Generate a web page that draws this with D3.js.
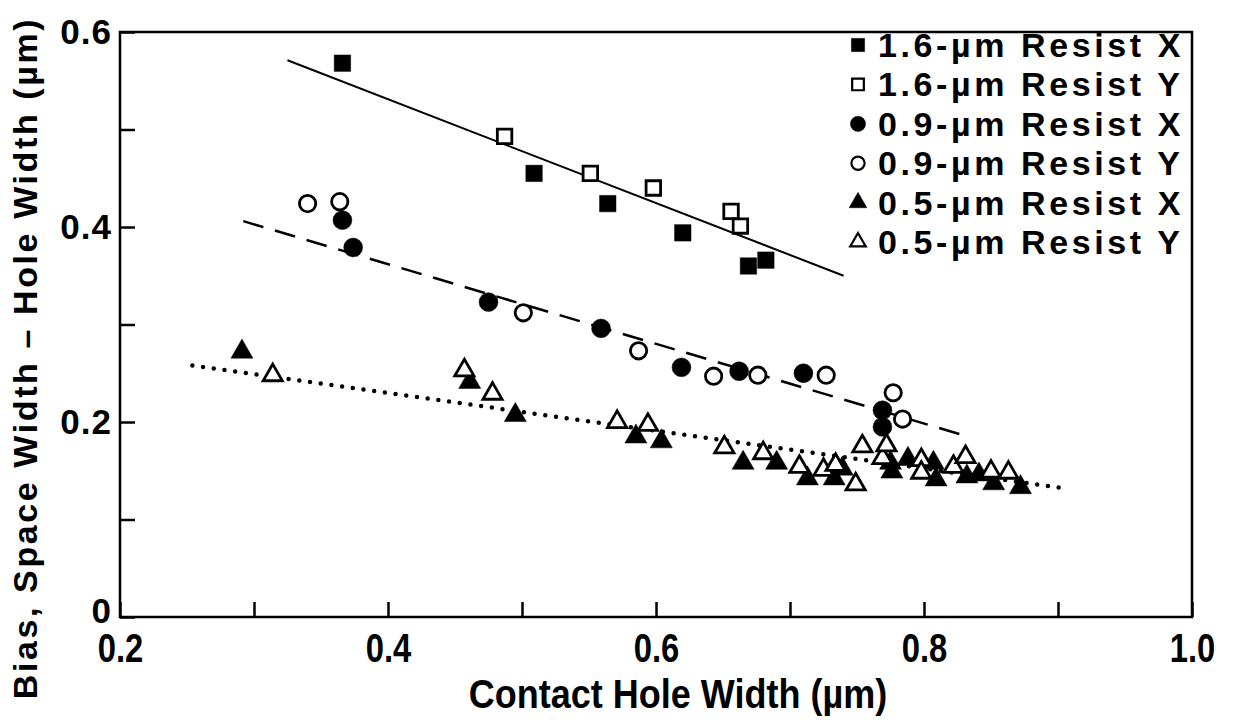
<!DOCTYPE html>
<html>
<head>
<meta charset="utf-8">
<script src="https://d3js.org/d3.v7.min.js"></script>
<style>
  body { margin: 0; background: #fff; }
  text { font-family: "Liberation Sans", Arial, sans-serif; font-weight: bold; fill: #000; }
</style>
</head>
<body>
<div id="chart"></div>
<script>

// data (x = contact hole width, y = bias), all in µm
var resist16X = [[0.366,0.568],[0.509,0.455],[0.564,0.424],[0.620,0.394],[0.669,0.360],[0.682,0.366]];
var resist16Y = [[0.487,0.493],[0.551,0.455],[0.598,0.440],[0.656,0.416],[0.663,0.401]];
var resist09X = [[0.366,0.407],[0.374,0.379],[0.475,0.323],[0.559,0.296],[0.619,0.256],[0.662,0.252],
                 [0.710,0.250],[0.769,0.212],[0.769,0.195]];
var resist09Y = [[0.340,0.424],[0.364,0.426],[0.501,0.312],[0.587,0.273],[0.643,0.247],[0.676,0.248],
                 [0.727,0.248],[0.777,0.230],[0.784,0.203]];
var resist05X = [[0.291,0.272],[0.461,0.241],[0.495,0.207],[0.585,0.185],[0.604,0.180],[0.665,0.158],
                 [0.690,0.158],[0.713,0.142],[0.733,0.142],[0.739,0.152],[0.775,0.158],[0.776,0.149],
                 [0.788,0.162],[0.807,0.158],[0.809,0.141],[0.832,0.144],[0.841,0.146],[0.852,0.137],
                 [0.872,0.133]];
var resist05Y = [[0.314,0.248],[0.457,0.253],[0.478,0.229],[0.571,0.200],[0.594,0.197],[0.651,0.174],
                 [0.680,0.168],[0.707,0.154],[0.725,0.151],[0.734,0.156],[0.749,0.136],[0.754,0.175],
                 [0.769,0.163],[0.772,0.176],[0.798,0.161],[0.798,0.148],[0.822,0.154],[0.831,0.164],
                 [0.850,0.149],[0.863,0.148]];

// fitted lines (end points)
var fit16 = [[0.325,0.571],[0.740,0.350]];
var fit09 = [[0.292,0.406],[0.833,0.185]];
var fit05 = [[0.254,0.258],[0.905,0.132]];

var xTicks = [0.2,0.3,0.4,0.5,0.6,0.7,0.8,0.9,1.0];
var yTicks = [0,0.1,0.2,0.3,0.4,0.5,0.6];
var xLabels = ["0.2","0.4","0.6","0.8","1.0"];
var yLabels = ["0","0.2","0.4","0.6"];
var legendLabels = ["1.6-µm Resist X","1.6-µm Resist Y","0.9-µm Resist X",
                    "0.9-µm Resist Y","0.5-µm Resist X","0.5-µm Resist Y"];

var width = 1233, height = 720;
var plotLeft = 120, plotRight = 1192, plotTop = 32, plotBottom = 617;

var svg = d3.select("#chart").append("svg")
            .attr("width", width)
            .attr("height", height);

var x = d3.scaleLinear().domain([0.2, 1.0]).range([plotLeft, plotRight]);
var y = d3.scaleLinear().domain([0, 0.6]).range([plotBottom, plotTop]);

// series description: data, marker shape, filled or not
var series = [
  {data: resist16X, shape: d3.symbolSquare, fill: true,  size: 270},
  {data: resist16Y, shape: d3.symbolSquare, fill: false, size: 210},
  {data: resist09X, shape: d3.symbolCircle, fill: true,  size: 280},
  {data: resist09Y, shape: d3.symbolCircle, fill: false, size: 210},
  {data: resist05X, shape: d3.symbolTriangle, fill: true,  size: 210},
  {data: resist05Y, shape: d3.symbolTriangle, fill: false, size: 160}
];

// x axis, ticks pointing inwards
var xAxis = svg.append("g")
    .attr("transform", "translate(0," + plotBottom + ")")
    .call(d3.axisBottom(x).tickValues(xTicks).tickSize(-15).tickPadding(17)
      .tickFormat(function(d) {
        var s = d3.format(".1f")(d);
        return xLabels.indexOf(s) >= 0 ? s : "";
      }));
xAxis.select(".domain").remove();
xAxis.selectAll("line").attr("stroke", "#000").attr("stroke-width", 2.5);
xAxis.selectAll("text")
    .attr("transform", "scale(0.82,1)")
    .style("font-size", "40px");

// y axis
var yAxis = svg.append("g")
    .attr("transform", "translate(" + plotLeft + ",0)")
    .call(d3.axisLeft(y).tickValues(yTicks).tickSize(-15).tickPadding(8)
      .tickFormat(function(d) {
        var s = d === 0 ? "0" : d3.format(".1f")(d);
        return yLabels.indexOf(s) >= 0 ? s : "";
      }));
yAxis.select(".domain").remove();
yAxis.selectAll("line").attr("stroke", "#000").attr("stroke-width", 2.5);
yAxis.selectAll("text")
    .attr("dy", function(d) { return d === 0 ? "0.15em" : "0.33em"; })
    .style("font-size", "35px")
    .style("letter-spacing", "1px");

// frame around the plot
svg.append("rect")
    .attr("x", plotLeft)
    .attr("y", plotTop)
    .attr("width", plotRight - plotLeft)
    .attr("height", plotBottom - plotTop)
    .attr("fill", "none")
    .attr("stroke", "#000")
    .attr("stroke-width", 2.5);

// regression lines
var line = d3.line()
    .x(function(d) { return x(d[0]); })
    .y(function(d) { return y(d[1]); });

svg.append("path").datum(fit16)
    .attr("d", line).attr("fill", "none")
    .attr("stroke", "#000").attr("stroke-width", 2);
svg.append("path").datum(fit09)
    .attr("d", line).attr("fill", "none")
    .attr("stroke", "#000").attr("stroke-width", 2.5)
    .attr("stroke-dasharray", "21 12");
svg.append("path").datum(fit05)
    .attr("d", line).attr("fill", "none")
    .attr("stroke", "#000").attr("stroke-width", 4.5)
    .attr("stroke-linecap", "round")
    .attr("stroke-dasharray", "0 10.8");

// markers
series.forEach(function(s) {
  svg.append("g")
    .selectAll("path")
    .data(s.data)
    .enter().append("path")
      .attr("d", d3.symbol().type(s.shape).size(s.size))
      .attr("transform", function(d) { return "translate(" + x(d[0]) + "," + y(d[1]) + ")"; })
      .attr("fill", s.fill ? "#000" : "#fff")
      .attr("stroke", "#000")
      .attr("stroke-width", s.fill ? 0.5 : 2.8);
});

// legend
var legend = svg.append("g").attr("class", "legend");
legendLabels.forEach(function(label, i) {
  var ly = 45 + i * 39.4;
  var s = series[i];
  legend.append("path")
      .attr("d", d3.symbol().type(s.shape).size(s.size * 0.65))
      .attr("transform", "translate(858," + ly + ")")
      .attr("fill", s.fill ? "#000" : "#fff")
      .attr("stroke", "#000")
      .attr("stroke-width", s.fill ? 0.5 : 2.2);
  legend.append("text")
      .attr("x", 878)
      .attr("y", ly + 12)
      .style("font-size", "34px")
      .style("letter-spacing", "3.6px")
      .text(label);
});

// axis titles
svg.append("text")
    .attr("transform", "translate(678,708) scale(0.9,1)")
    .attr("text-anchor", "middle")
    .style("font-size", "40px")
    .text("Contact Hole Width (µm)");

svg.append("text")
    .attr("transform", "translate(37,358) rotate(-90)")
    .attr("text-anchor", "middle")
    .style("font-size", "34px")
    .style("letter-spacing", "2.6px")
    .text("Bias, Space Width – Hole Width (µm)");

</script>
</body>
</html>
